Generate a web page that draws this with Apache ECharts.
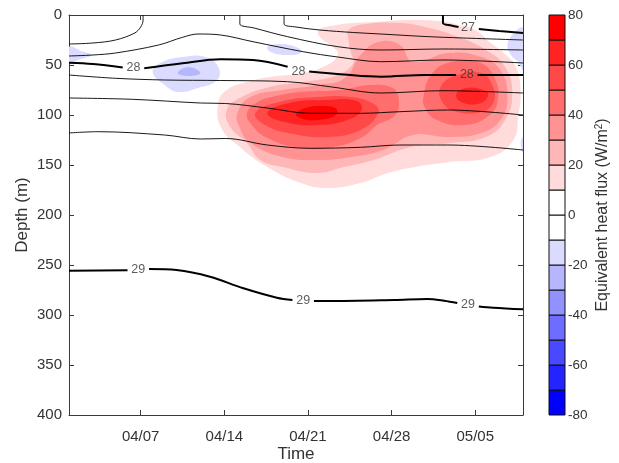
<!DOCTYPE html>
<html><head><meta charset="utf-8">
<script src="https://cdn.jsdelivr.net/npm/echarts@6/dist/echarts.min.js"></script>
<style>html,body{margin:0;padding:0;background:#fff}#c{width:619px;height:463px}</style>
</head><body><div id="c"></div>
<script>
// ---- axes (x = days since 04/01) ----
const dayTicks = [6, 13, 20, 27, 34];
const dayTickLabels = ['04/07', '04/14', '04/21', '04/28', '05/05'];
const depthTicks = [0, 50, 100, 150, 200, 250, 300, 350, 400];
const colorbarLevels = [-80, -70, -60, -50, -40, -30, -20, -10, 0, 10, 20, 30, 40, 50, 60, 70, 80];
const colorbarTicks = [-80, -60, -40, -20, 0, 20, 40, 60, 80];

// ---- equivalent heat flux: filled-contour regions [day, depth] ----
const fluxPos10 = [[22.4,10],[23.8,8],[25.6,7],[28.4,5],[31.3,6.5],[32.6,10],[34.0,15],[35.3,28],[36.4,38],[37.4,52],[37.8,75],[37.6,102],[37.2,125],[35.3,142],[31.9,147],[29.0,152],[26.7,158],[24.4,168],[21.6,173],[19.4,168],[16.6,152],[14.3,132],[12.7,112],[12.5,88],[13.2,75],[14.9,67],[16.8,62],[19.6,58],[21.6,50],[22.5,40],[22.1,32],[21.0,22],[20.9,15]];
const fluxPos20 = [[23.4,15],[24.8,9],[27.7,8],[29.8,12],[32.6,22],[34.9,35],[36.5,52],[37.1,78],[36.5,105],[34.9,122],[31.9,128],[28.6,132],[25.5,145],[23.0,152],[20.8,158],[17.9,152],[16.0,145],[14.9,128],[13.5,112],[13.2,95],[14.3,83],[16.8,72],[19.6,67],[22.5,60],[23.8,48],[23.6,38],[23.4,25]];
const fluxPos30 = [[14.1,98],[15.2,82],[17.9,75],[20.8,70],[23.1,63],[24.4,40],[25.9,27],[27.7,30],[28.8,47],[31.7,38],[34.5,42],[36.1,55],[36.7,82],[36.1,105],[34.5,118],[31.7,122],[28.8,120],[26.3,135],[23.6,142],[20.8,145],[17.9,142],[15.2,128],[14.3,113]];
const fluxPos40a = [[14.9,98],[15.8,87],[17.3,81],[19.4,77],[22.7,75],[25.2,70],[27.1,73],[27.6,85],[27.3,100],[25.8,110],[24.4,123],[22.1,132],[19.4,133],[16.6,123],[15.3,110]];
const fluxPos40b = [[29.7,80],[30.3,60],[31.7,48],[34.2,47],[35.5,60],[35.9,85],[35.0,102],[33.0,110],[30.8,105],[29.8,93]];
const fluxPos50a = [[15.6,98],[17.6,87],[20.8,82],[23.6,82],[25.5,89],[25.9,98],[24.4,115],[21.6,122],[18.8,119],[16.4,110]];
const fluxPos50b = [[31.1,72],[32.5,60],[34.5,58],[35.5,72],[35.5,88],[34.5,97],[32.5,97],[31.3,88]];
const fluxPos60a = [[16.6,98],[18.4,88],[21.6,85],[24.1,86],[24.5,95],[23.3,105],[20.8,110],[18.0,107]];
const fluxPos60b = [[32.4,80],[33.2,73],[34.7,75],[35.1,80],[34.5,88],[33.0,88]];
const fluxPos70a = [[19.0,99],[19.8,93],[21.2,91],[22.4,94],[22.2,101],[20.8,105],[19.6,104]];
const fluxNeg10a = [[0,32],[1.0,36],[1.9,40],[1.0,44],[0,47]];
const fluxNeg10b = [[7.0,57],[7.8,47],[9.5,42],[11.4,42],[12.5,52],[12.4,65],[10.8,73],[9.1,77],[8.0,70]];
const fluxNeg10c = [[16.6,32],[17.7,29],[19.2,33],[19.4,38],[18.1,40],[16.9,37]];
const fluxNeg10d = [[38,13],[37.1,20],[36.7,30],[37.0,40],[37.6,47],[38,55]];
const fluxNeg10e = [[38,122],[37.8,128],[38,137]];
const fluxNeg20a = [[9.1,58],[10.0,52],[11.0,58],[10.0,61]];

// ---- temperature isotherms, segments split where labels sit ----
const iso27 = [[[31.3,0],[31.3,8],[32.0,10.5],[32.6,12]], [[34.3,14],[36,16],[38,18]]];
const iso2725 = [[[18.0,0],[18.0,9],[19,12],[21.0,15],[23.8,17.5],[26.1,19],[29.8,21.5],[33,23],[38,25]]];
const iso275 = [[[0,29],[2,28],[3.9,25],[5.5,18],[6.0,12],[6.2,5],[6.2,0]], [[14.3,0],[14.3,9],[15.5,13],[18.3,21.7],[22.5,31.7],[26.1,35],[31.3,34],[38,35]]];
const iso2775 = [[[0,41],[2,40],[3.9,38],[7.5,30],[9.5,22.3],[10.8,19],[12.7,20],[15.4,26.7],[19.6,36.7],[22.5,42],[26.1,46.7],[31.3,45],[38,48]]];
const iso28 = [[[0,47.7],[2,49],[4.5,52.5]], [[6.3,53.3],[9.5,48.3],[12.7,44.3],[15.4,45],[18.3,51.7]], [[20.1,56.5],[23,59.5],[26.1,61.7],[29.8,60],[32.4,60]], [[34.2,60],[38,60]]];
const iso2825 = [[[0,60],[3.9,63.3],[8,65],[12.7,65.5],[18.3,66.7],[22,72],[26.1,78],[31.3,75.7],[38,78]]];
const iso285 = [[[0,83],[5.3,84.3],[11,88],[13.1,88.5],[16.6,93],[20.2,98.3],[24.4,98.3],[27.7,96.7],[31.7,95],[38,100]]];
const iso2875 = [[[0,118],[2.4,116.7],[8,120],[11,124],[13.1,123.5],[16.6,130],[20.2,133.3],[24.4,132.3],[27.7,130],[31.7,130],[38,135]]];
const iso29 = [[[0,255.7],[4.9,255.3]], [[6.7,254],[9,255],[11.8,261.7],[14.6,273.3],[17.4,282.7],[18.7,285]], [[20.5,286],[21.6,286],[27.2,285],[30,284],[31.4,285.7],[32.5,288]], [[34.3,291.5],[35.5,292.7],[38,294.3]]];
const isoLabels = [[33.4,13,'27'],[5.4,53,'28'],[19.2,57,'28'],[33.3,60,'28'],[5.8,255,'29'],[19.6,285.7,'29'],[33.4,290,'29']];

// ---- build ----
const cbColors = ['#0000ff','#2424ff','#4949ff','#6d6dff','#9292ff','#b6b6ff','#dbdbff','#ffffff',
                  '#ffffff','#ffdbdb','#ffb6b6','#ff9292','#ff6d6d','#ff4949','#ff2424','#ff0000'];
function cellColor(lo){ return cbColors[Math.round((lo + 80) / 10)]; }
function levelColor(lvl){ return cellColor(lvl > 0 ? lvl : lvl - 10); }
const regions = [
  [10, fluxPos10], [20, fluxPos20], [30, fluxPos30], [40, fluxPos40a], [40, fluxPos40b],
  [50, fluxPos50a], [50, fluxPos50b], [60, fluxPos60a], [60, fluxPos60b], [70, fluxPos70a],
  [-10, fluxNeg10a], [-10, fluxNeg10b], [-10, fluxNeg10c], [-10, fluxNeg10d], [-10, fluxNeg10e], [-20, fluxNeg20a]
];
const FONT = 'Liberation Sans, Arial, Helvetica, sans-serif';
const TXT = '#333333';
const AX = '#3a3a3a';

const series = [];
series.push({
  type: 'custom', xAxisIndex: 0, yAxisIndex: 0, clip: true, silent: true, z: 1,
  data: regions.map(r => [r[1][0][0], r[1][0][1]]),
  renderItem: function (params, api) {
    const r = regions[params.dataIndex];
    const cs = params.coordSys;
    const pts = r[1].map(p => {
      const c = api.coord(p);
      return [Math.min(Math.max(c[0], cs.x), cs.x + cs.width), Math.min(Math.max(c[1], cs.y), cs.y + cs.height)];
    });
    return { type: 'polygon', shape: { points: pts, smooth: 0.45 }, style: { fill: levelColor(r[0]), stroke: null } };
  }
});
function addIso(segs, thick){
  segs.forEach(s => series.push({
    type: 'line', xAxisIndex: 0, yAxisIndex: 0, data: s, symbol: 'none', smooth: 0.35, silent: true, z: 3,
    lineStyle: { color: '#000', width: thick ? 2 : 0.9 }, clip: true
  }));
}
addIso(iso27, true); addIso(iso2725, false); addIso(iso275, false); addIso(iso2775, false);
addIso(iso28, true); addIso(iso2825, false); addIso(iso285, false); addIso(iso2875, false); addIso(iso29, true);
series.push({
  type: 'scatter', xAxisIndex: 0, yAxisIndex: 0, data: isoLabels, symbolSize: 1, z: 4, silent: true,
  itemStyle: { color: 'rgba(0,0,0,0)' },
  label: { show: true, position: 'inside', formatter: p => p.value[2], color: TXT, fontSize: 12.5, fontFamily: FONT }
});
// colorbar
const cbCells = colorbarLevels.slice(0, -1).map((v, i) => [v, colorbarLevels[i + 1]]);
series.push({
  type: 'custom', xAxisIndex: 2, yAxisIndex: 2, silent: true, z: 2,
  data: cbCells,
  renderItem: function (params, api) {
    const lo = api.value(0), hi = api.value(1);
    const a = api.coord([0, hi]), b = api.coord([1, lo]);
    return { type: 'rect', shape: { x: a[0], y: a[1], width: b[0] - a[0], height: b[1] - a[1] },
      style: { fill: cellColor(lo), stroke: '#111', lineWidth: 1 } };
  }
});

const tickStyle = { show: true, inside: true, length: 5, lineStyle: { color: AX } };
const lineStyleAx = { show: true, onZero: false, lineStyle: { color: AX, width: 1 } };
const option = {
  animation: false,
  backgroundColor: '#fff',
  textStyle: { fontFamily: FONT },
  grid: [
    { left: 69, top: 15, width: 454, height: 400, containLabel: false, outerBoundsMode: 'none' },
    { left: 549, top: 15, width: 16, height: 400, containLabel: false, outerBoundsMode: 'none' }
  ],
  xAxis: [
    { gridIndex: 0, type: 'value', min: 0, max: 38, position: 'bottom',
      axisLine: lineStyleAx,
      axisTick: Object.assign({ customValues: dayTicks }, tickStyle),
      axisLabel: { show: true, customValues: dayTicks, formatter: v => dayTickLabels[dayTicks.indexOf(v)], fontSize: 15, color: TXT, margin: 14, fontFamily: FONT },
      splitLine: { show: false },
      name: 'Time', nameLocation: 'middle', nameGap: 31, nameMoveOverlap: false,
      nameTextStyle: { fontSize: 17, color: TXT, fontFamily: FONT } },
    { gridIndex: 0, type: 'value', min: 0, max: 38, position: 'top',
      axisLine: lineStyleAx,
      axisTick: Object.assign({ customValues: dayTicks }, tickStyle),
      axisLabel: { show: false }, splitLine: { show: false } },
    { gridIndex: 1, type: 'value', min: 0, max: 1, show: false }
  ],
  yAxis: [
    { gridIndex: 0, type: 'value', min: 0, max: 400, interval: 50, inverse: true, position: 'left',
      axisLine: lineStyleAx, axisTick: tickStyle,
      axisLabel: { show: true, fontSize: 15, color: TXT, margin: 7, fontFamily: FONT },
      splitLine: { show: false },
      name: 'Depth (m)', nameLocation: 'middle', nameGap: 38, nameRotate: 90, nameMoveOverlap: false,
      nameTextStyle: { fontSize: 17, color: TXT, fontFamily: FONT } },
    { gridIndex: 0, type: 'value', min: 0, max: 400, interval: 50, inverse: true, position: 'right',
      axisLine: lineStyleAx, axisTick: tickStyle,
      axisLabel: { show: false }, splitLine: { show: false } },
    { gridIndex: 1, type: 'value', min: -80, max: 80, interval: 20, position: 'right',
      axisLine: { show: false, onZero: false }, axisTick: { show: false },
      axisLabel: { show: true, fontSize: 13.5, color: TXT, margin: 3, fontFamily: FONT },
      splitLine: { show: false },
      name: 'Equivalent heat flux (W/m{sup|2})', nameLocation: 'middle', nameGap: 29, nameRotate: 90, nameMoveOverlap: false,
      nameTextStyle: { fontSize: 16, color: TXT, fontFamily: FONT,
        rich: { sup: { fontSize: 10, color: TXT, fontFamily: FONT, verticalAlign: 'top', padding: [0, 0, 8, 0] } } } }
  ],
  series: series
};
echarts.init(document.getElementById('c'), null, { renderer: 'canvas' }).setOption(option);
</script>
</body></html>
